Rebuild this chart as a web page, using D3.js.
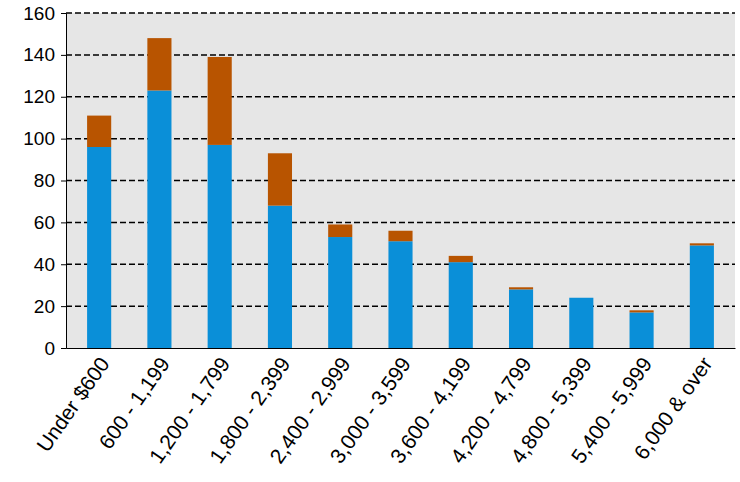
<!DOCTYPE html>
<html><head><meta charset="utf-8">
<script src="https://cdn.jsdelivr.net/npm/d3@7"></script>
<style>body{margin:0;background:#fff}text{font-family:"Liberation Sans",Arial,sans-serif}</style>
</head><body>
<svg id="chart" width="740" height="482"></svg>
<script>
const categories = ["Under $600","600 - 1,199","1,200 - 1,799","1,800 - 2,399","2,400 - 2,999","3,000 - 3,599","3,600 - 4,199","4,200 - 4,799","4,800 - 5,399","5,400 - 5,999","6,000 & over"];
const blueValues = [96,123,97,68,53,51,41,28,24,17,49];
const brownValues = [15,25,42,25,6,5,3,1,0,1,1];
const yTicks = [0,20,40,60,80,100,120,140,160];

const margin = {left:66, right:5, top:13, bottom:134};
const width = 740, height = 482;
const svg = d3.select("#chart");
const x = d3.scaleBand().domain(categories).range([margin.left, width - margin.right]).paddingInner(0.6).paddingOuter(0.35);
const y = d3.scaleLinear().domain([0,160]).range([height - margin.bottom, margin.top]);

svg.append("rect").attr("x", margin.left).attr("y", margin.top)
  .attr("width", width - margin.right - margin.left).attr("height", y(0) - margin.top).attr("fill", "#e6e6e6");

svg.selectAll(".grid").data(yTicks.slice(1)).enter().append("line")
  .attr("x1", margin.left).attr("x2", width - margin.right)
  .attr("y1", d => y(d)).attr("y2", d => y(d))
  .attr("stroke", "#000").attr("stroke-width", 1.5).attr("stroke-dasharray", "6,3");

svg.selectAll(".blue").data(categories).enter().append("rect")
  .attr("x", d => x(d)).attr("width", x.bandwidth())
  .attr("y", (d,i) => y(blueValues[i])).attr("height", (d,i) => y(0) - y(blueValues[i]))
  .attr("fill", "#0a8fd8");
svg.selectAll(".brown").data(categories).enter().append("rect")
  .attr("x", d => x(d)).attr("width", x.bandwidth())
  .attr("y", (d,i) => y(blueValues[i] + brownValues[i])).attr("height", (d,i) => y(blueValues[i]) - y(blueValues[i] + brownValues[i]))
  .attr("fill", "#b85400");

const yAxis = svg.append("g").attr("transform", `translate(${margin.left},0)`)
  .call(d3.axisLeft(y).tickValues(yTicks).tickSize(5).tickPadding(6));
yAxis.select(".domain").attr("stroke", "#000");
yAxis.selectAll("text").attr("font-size", 19).attr("fill", "#000");

const xAxis = svg.append("g").attr("transform", `translate(0,${y(0)})`)
  .call(d3.axisBottom(x).tickSize(0).tickPadding(14));
xAxis.select(".domain").attr("stroke", "#000");
xAxis.selectAll("text").attr("font-size", 21).attr("fill", "#000")
  .attr("text-anchor", "end").attr("dx", "-0.3em").attr("dy", "0.2em")
  .attr("transform", "rotate(-55)");
</script>
</body></html>
